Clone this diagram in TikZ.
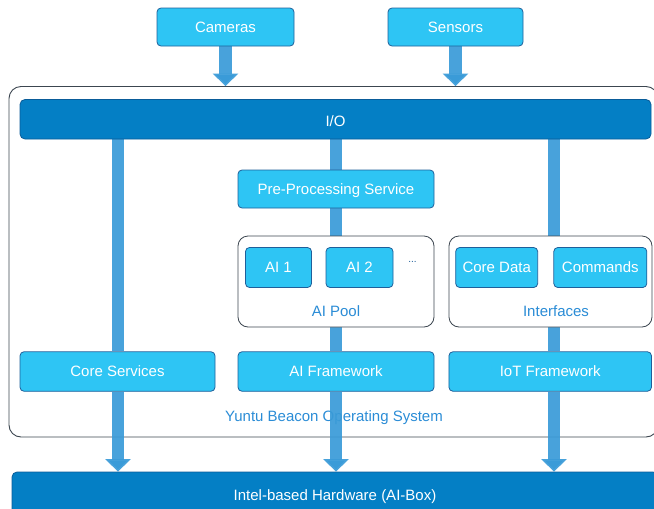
\documentclass[tikz,border=0pt]{standalone}
\usepackage{fontspec}
\setmainfont{Liberation Sans}
\usetikzlibrary{arrows.meta}
\definecolor{boxfill}{HTML}{2EC5F4}
\definecolor{boxline}{HTML}{1F5F9A}
\definecolor{barfill}{HTML}{047FC5}
\definecolor{barline}{HTML}{0A5C99}
\definecolor{pipec}{HTML}{3A9BD8}
\definecolor{lblc}{HTML}{2A8CD6}
\definecolor{contc}{HTML}{3C4650}
\pgfdeclarelayer{bg}
\pgfdeclarelayer{mid}
\pgfsetlayers{bg,mid,main}
\tikzset{
  lbox/.style={draw=boxline, line width=0.8pt, fill=boxfill, rounded corners=4pt,
    inner sep=0pt, text=white, text depth=0pt, font=\fontsize{15}{17}\selectfont},
  dbar/.style={draw=barline, line width=0.8pt, fill=barfill, rounded corners=5pt,
    inner sep=0pt, text=white, text depth=0pt, font=\fontsize{15}{17}\selectfont},
  cont/.style={draw=contc, line width=0.8pt, fill=white, rounded corners=10pt, inner sep=0pt},
  lbl/.style={text=lblc, inner sep=0pt, text depth=0pt, font=\fontsize{15}{17}\selectfont},
  pipe/.style={draw=pipec, line width=12.5pt, draw opacity=0.93},
  pipearrow/.style={pipe, -{Triangle[width=25pt,length=12.5pt]}},
}
\begin{document}
\begin{tikzpicture}[x=1pt,y=-1pt]
\useasboundingbox (0,0) rectangle (654,509);
\clip (0,0) rectangle (654,509);
% lanes
\coordinate (laneL) at (118,0);
\coordinate (laneM) at (336,0);
\coordinate (laneR) at (554,0);
% sources
\node[lbox, minimum width=137pt, minimum height=38pt] (cam) at (225.5,27) {Cameras};
\node[lbox, minimum width=135pt, minimum height=38pt] (sen) at (455.5,27) {Sensors};
% OS container
\begin{pgfonlayer}{bg}
\node[draw=contc, line width=0.9pt, rounded corners=12pt, inner sep=0pt,
  minimum width=649pt, minimum height=350.5pt] (os) at (333.5,261.75) {};
\node[lbl] (oslbl) at (334,416) {Yuntu Beacon Operating System};
\end{pgfonlayer}
% I/O
\node[dbar, minimum width=631pt, minimum height=39.5pt, text height=15pt] (io) at (335.5,119.25) {I/O};
% middle column
\node[lbox, minimum width=196pt, minimum height=38pt] (pre) at (336,189) {Pre-Processing Service};
\node[cont, minimum width=196pt, minimum height=91pt] (pool) at (336,281.5) {};
\node[lbox, minimum width=66pt, minimum height=40pt] (ai1) at (278.5,267.5) {AI 1};
\node[lbox, minimum width=67pt, minimum height=40pt] (ai2) at (359.5,267.5) {AI 2};
\node[lbl, text=boxline, font=\fontsize{10}{12}\selectfont] (dots) at (412.5,262) {...};
\node[lbl] (poollbl) at (336,311) {AI Pool};
% right column
\node[cont, minimum width=203pt, minimum height=91pt] (intf) at (550.5,281.5) {};
\node[lbox, minimum width=82pt, minimum height=40pt] (cd) at (496.7,267.5) {Core Data};
\node[lbox, minimum width=93pt, minimum height=40pt] (cmd) at (600.3,267.5) {Commands};
\node[lbl] (intflbl) at (556,311) {Interfaces};
% frameworks
\node[lbox, minimum width=195pt, minimum height=39.5pt] (cs) at (117.5,371.5) {Core Services};
\node[lbox, minimum width=196pt, minimum height=39.5pt] (aif) at (336,371.5) {AI Framework};
\node[lbox, minimum width=202.5pt, minimum height=39.5pt] (iot) at (550.2,371.5) {IoT Framework};
% hardware
\node[dbar, minimum width=646pt, minimum height=46pt] (hw) at (335,495) {Intel-based Hardware (AI-Box)};
% connectors
\begin{pgfonlayer}{mid}
\draw[pipearrow] (cam.south) -- (cam.south |- os.north);
\draw[pipearrow] (sen.south) -- (sen.south |- os.north);
\draw[pipe] (io.south -| laneL) -- (cs.north -| laneL);
\draw[pipearrow] (cs.south -| laneL) -- (hw.north -| laneL);
\draw[pipe] (io.south -| laneM) -- (pre.north -| laneM);
\draw[pipe] (pre.south -| laneM) -- (pool.north -| laneM);
\draw[pipe] (pool.south -| laneM) -- (aif.north -| laneM);
\draw[pipearrow] (aif.south -| laneM) -- (hw.north -| laneM);
\draw[pipe] (io.south -| laneR) -- (intf.north -| laneR);
\draw[pipe] (intf.south -| laneR) -- (iot.north -| laneR);
\draw[pipearrow] (iot.south -| laneR) -- (hw.north -| laneR);
\end{pgfonlayer}
\end{tikzpicture}
\end{document}
